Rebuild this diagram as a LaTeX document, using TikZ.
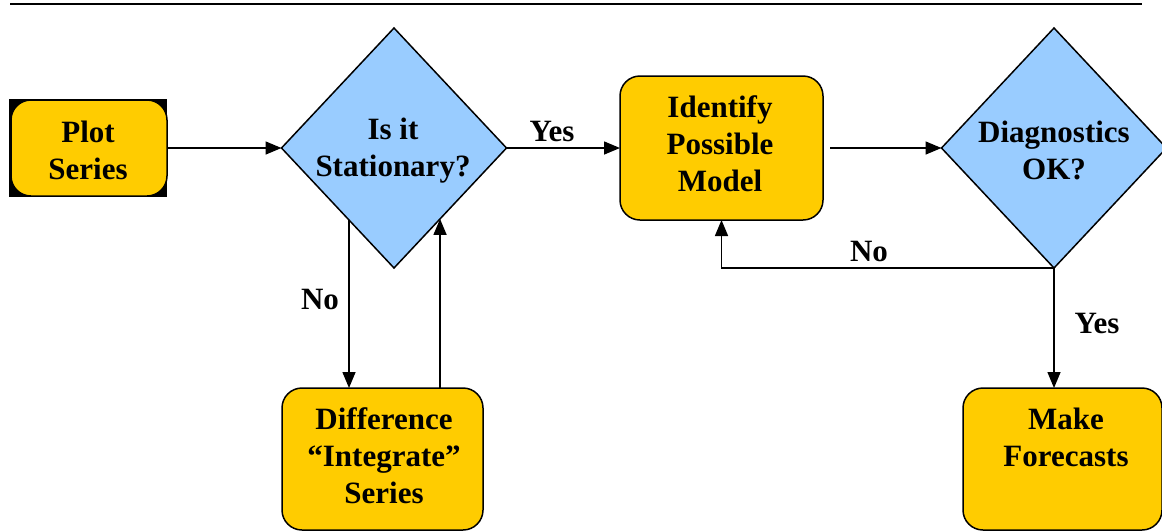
\documentclass[tikz,border=0pt]{standalone}
\usepackage{fontspec}
\setmainfont{Liberation Serif}
\usetikzlibrary{shapes.geometric,arrows.meta,backgrounds}
\definecolor{boxyellow}{HTML}{FFCC00}
\definecolor{diablue}{HTML}{99CCFF}
\tikzset{
  txt/.style={font=\fontsize{31}{37}\selectfont\bfseries, align=center, inner sep=0pt},
  procbox/.style={draw=black, line width=1.5pt, fill=boxyellow, rounded corners=20pt, inner sep=0pt, outer sep=0pt},
  dia/.style={diamond, draw=black, line width=1.5pt, fill=diablue, inner sep=0pt, outer sep=0pt, minimum width=225pt, minimum height=240pt},
  arr/.style={line width=1.5pt, -{Triangle[length=16pt,width=13pt]}},
  lbl/.style={txt}
}
\begin{document}
\begin{tikzpicture}[x=1pt,y=-1pt]
\useasboundingbox (0,0) rectangle (1162,531);
\draw[line width=2pt] (10,4) -- (1142,4);
% nodes
\node[procbox, minimum width=156pt, minimum height=96pt] (plot) at (89,148) {};
\begin{scope}[on background layer]
\fill[black] ([xshift=-2pt,yshift=-1pt]plot.south west) rectangle ([yshift=1pt]plot.north east);
\end{scope}
\node[txt] (plottext) at (88,150) {Plot\\Series};
\node[dia] (d1) at (394,148) {};
\node[txt] (d1text) at (393,151) {Is it\\Stationary?};
\node[procbox, minimum width=203pt, minimum height=144pt] (ident) at (721.5,148) {};
\node[txt] (identtext) at (720,144) {Identify\\Possible\\Model};
\node[dia] (d2) at (1054,148) {};
\node[txt] (d2text) at (1054,150) {Diagnostics\\OK?};
\node[procbox, minimum width=201pt, minimum height=142pt] (diff) at (382.5,459) {};
\node[txt] (difftext) at (384,456) {Difference\\“Integrate”\\Series};
\node[procbox, minimum width=199pt, minimum height=142pt] (make) at (1062.5,459) {};
\node[txt] (maketext) at (1066,437) {Make\\Forecasts};
% connectors
\draw[arr] (plot.east) -- (d1.west);
\draw[arr] (d1.east) -- (ident.west);
\node[lbl] (yes1) at (552,131) {Yes};
\draw[arr] ([xshift=7pt]ident.east) -- (d2.west);
\draw[arr] (d2.south) -| (ident.south);
\node[lbl] (no2) at (869,251) {No};
\draw[arr] (d2.south) -- (d2.south |- make.north);
\node[lbl] (yes2) at (1097,323) {Yes};
\draw[arr] (d1.238) -- (d1.238 |- diff.north);
\node[lbl] (no1) at (320,299) {No};
\draw[arr] (diff.north -| d1.303) -- (d1.303);
\end{tikzpicture}
\end{document}
